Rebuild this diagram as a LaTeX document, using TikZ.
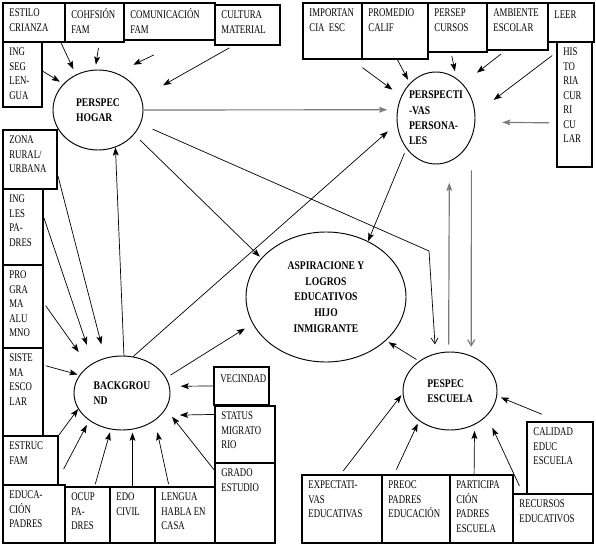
\documentclass[tikz,border=0pt]{standalone}
\usepackage{fontspec}
\setmainfont{Liberation Serif}[FakeStretch=0.75]
\newfontfamily\perspfont{Liberation Serif}[FakeStretch=0.82]
\usetikzlibrary{arrows.meta, positioning, fit, shapes.geometric}
\usepackage{xcolor}
\definecolor{LineGray}{HTML}{7A7A7A}
\newdimen\upx
\upx=0.03cm

\begin{document}
\begin{tikzpicture}[
    x=0.03cm, y=-0.03cm,
    factor/.style={draw, line width=1.5pt, inner sep=0pt},
    ftext/.style={
        anchor=north west, align=left, inner xsep=6pt, inner ysep=5.5pt,
        execute at begin node=\strut, font=\fontsize{10}{12.4}\selectfont
    },
    persp/.style={
        draw, ellipse, line width=0.8pt, inner sep=0pt, align=left,
        font=\perspfont\fontsize{10}{13}\selectfont\bfseries
    },
    arr/.style={-{Stealth[length=7pt, width=5pt, inset=1.5pt]}, line width=0.6pt},
    garr/.style={-{Stealth[length=7pt, width=5pt, inset=1.5pt]}, line width=1pt, LineGray},
    barr/.style={-{Straight Barb[length=5pt, width=6pt]}, line width=0.6pt}
]
\useasboundingbox (0,0) rectangle (596,545);

% === Home factors (top left) ===
\node[factor, fit={(3,3) (65,42)}] (estilo) {};
\node[ftext] (estilo-t) at (estilo.north west) {ESTILO\\CRIANZA};
\node[factor, fit={(65,3) (124,42)}] (cohf) {};
\node[ftext] (cohf-t) at (cohf.north west) {COHFSIÓN\\FAM};
\node[factor, fit={(124,3) (215,40)}] (comun) {};
\node[ftext] (comun-t) at (comun.north west) {COMUNICACIÓN\\FAM};
\node[factor, fit={(215,5) (280,45)}] (cultura) {};
\node[ftext] (cultura-t) at (cultura.north west) {CULTURA\\MATERIAL};
\node[factor, fit={(3,42) (42,107)}] (ingseg) {};
\node[ftext] (ingseg-t) at (ingseg.north west) {ING\\SEG\\LEN-\\GUA};

% === Personal factors (top right) ===
\node[factor, fit={(303,3) (362,59)}] (importancia) {};
\node[ftext] (importancia-t) at (importancia.north west) {IMPORTAN\\CIA\ \ ESC};
\node[factor, fit={(362,3) (428,59)}] (promedio) {};
\node[ftext] (promedio-t) at (promedio.north west) {PROMEDIO\\CALIF};
\node[factor, fit={(428,3) (487,52)}] (persep) {};
\node[ftext] (persep-t) at (persep.north west) {PERSEP\\CURSOS};
\node[factor, fit={(487,3) (548,50)}] (ambiente) {};
\node[ftext] (ambiente-t) at (ambiente.north west) {AMBIENTE\\ESCOLAR};
\node[factor, fit={(548,3) (594,42)}] (leer) {};
\node[ftext] (leer-t) at (leer.north west) {LEER};
\node[factor, fit={(557,42) (592,167)}] (historia) {};
\node[ftext] (historia-t) at (historia.north west) {HIS\\TO\\RIA\\CUR\\RI\\CU\\LAR};

% === Background factors (left and bottom) ===
\node[factor, fit={(3,130) (57,189)}] (zona) {};
\node[ftext] (zona-t) at (zona.north west) {ZONA\\RURAL/\\URBANA};
\node[factor, fit={(3,189) (43,265)}] (ingles) {};
\node[ftext] (ingles-t) at (ingles.north west) {ING\\LES\\PA-\\DRES};
\node[factor, fit={(3,265) (43,348)}] (programa) {};
\node[ftext] (programa-t) at (programa.north west) {PRO\\GRA\\MA\\ALU\\MNO};
\node[factor, fit={(3,348) (43,436)}] (sistema) {};
\node[ftext] (sistema-t) at (sistema.north west) {SISTE\\MA\\ESCO\\LAR};
\node[factor, fit={(3,436) (58,485)}] (estruc) {};
\node[ftext] (estruc-t) at (estruc.north west) {ESTRUC\\FAM};
\node[factor, fit={(3,485) (65,543)}] (educ) {};
\node[ftext] (educ-t) at (educ.north west) {EDUCA-\\CIÓN\\PADRES};
\node[factor, fit={(65,487) (110,543)}] (ocup) {};
\node[ftext] (ocup-t) at (ocup.north west) {OCUP\\PA-\\DRES};
\node[factor, fit={(110,487) (155,543)}] (edo) {};
\node[ftext] (edo-t) at (edo.north west) {EDO\\CIVIL};
\node[factor, fit={(155,487) (215,543)}] (lengua) {};
\node[ftext] (lengua-t) at (lengua.north west) {LENGUA\\HABLA EN\\CASA};
\node[factor, fit={(215,463) (275,543)}] (grado) {};
\node[ftext] (grado-t) at (grado.north west) {GRADO\\ESTUDIO};
\node[factor, fit={(215,406) (275,463)}] (status) {};
\node[ftext] (status-t) at (status.north west) {STATUS\\MIGRATO\\RIO};
\node[factor, fit={(214,367) (269,405)}] (vecindad) {};
\node[ftext] (vecindad-t) at (vecindad.north west) {VECINDAD};

% === School factors (bottom right) ===
\node[factor, fit={(302,475) (382,543)}] (expect) {};
\node[ftext] (expect-t) at (expect.north west) {EXPECTATI-\\VAS\\EDUCATIVAS};
\node[factor, fit={(382,475) (450,543)}] (preoc) {};
\node[ftext] (preoc-t) at (preoc.north west) {PREOC\\PADRES\\EDUCACIÓN};
\node[factor, fit={(450,475) (513,543)}] (partic) {};
\node[ftext] (partic-t) at (partic.north west) {PARTICIPA\\CIÓN\\PADRES\\ESCUELA};
\node[factor, fit={(513,494) (593,543)}] (recursos) {};
\node[ftext] (recursos-t) at (recursos.north west) {RECURSOS\\EDUCATIVOS};
\node[factor, fit={(527,422) (593,494)}] (calidad) {};
\node[ftext] (calidad-t) at (calidad.north west) {CALIDAD\\EDUC\\ESCUELA};

% === Perspectives ===
\node[persp, minimum width=90\upx, minimum height=80\upx] (hogar) at (98,110) {PERSPEC\\HOGAR};
\node[persp, minimum width=78\upx, minimum height=92\upx] (personales) at (436,118)
    {PERSPECTI\\-VAS\\PERSONA-\\LES};
\node[persp, align=center, minimum width=160\upx, minimum height=130\upx,
      font=\perspfont\fontsize{10}{13.5}\selectfont\bfseries] (aspira) at (326,297)
    {ASPIRACIONE Y\\LOGROS\\EDUCATIVOS\\HIJO\\INMIGRANTE};
\node[persp, minimum width=96\upx, minimum height=74\upx] (backg) at (122,393) {BACKGROU\\ND};
\node[persp, minimum width=94\upx, minimum height=78\upx] (escuela) at (450,391) {PESPEC\\ESCUELA};

% === Into PERSPEC HOGAR ===
\draw[arr, shorten >=6\upx] (estilo.-37) -- (hogar.122);
\draw[arr, shorten <=5\upx, shorten >=5\upx] (cohf.-77) -- (hogar.94);
\draw[arr, shorten <=33\upx, shorten >=19\upx] (comun.-54) -- (hogar.64);
\draw[arr, shorten <=4\upx, shorten >=25\upx] (cultura.-125) -- (hogar.16);
\draw[arr, shorten >=4\upx] (ingseg.9) -- (hogar.143);

% === Into PERSPECTIVAS PERSONALES ===
\draw[arr, shorten <=13\upx, shorten >=11\upx] (importancia.-56) -- (personales.148);
\draw[arr, shorten >=4\upx] (promedio.-85) -- (personales.127);
\draw[arr, shorten <=3\upx, shorten >=7\upx] (persep.-104) -- (personales.63);
\draw[arr, shorten <=5\upx, shorten >=18\upx] (ambiente.-117) -- (personales.52);
\draw[arr, shorten <=21\upx, shorten >=23\upx] (leer.-96) -- (personales.6);
\draw[garr, shorten <=7\upx, shorten >=27\upx] (historia.225) -- (personales.-6);
\draw[garr, shorten >=10\upx] (hogar.east) -- (personales.168);
\draw[arr, shorten >=12\upx] (backg.73) -- (personales.188);
\draw[garr, shorten <=7\upx, shorten >=21\upx] (escuela.92) -- (personales.-73);

% === Out of PERSPECTIVAS PERSONALES ===
\draw[garr, -{Straight Barb[length=5pt, width=6pt]}, shorten <=32\upx, shorten >=9\upx]
    (personales.-30) -- (escuela.59);
\draw[arr, shorten <=5\upx] (personales.-134) -- (aspira.53);

% === Out of PERSPEC HOGAR ===
\draw[arr, shorten <=8\upx, shorten >=2\upx] (hogar.-34) -- (aspira.149);
\coordinate (bend) at (429,251);
\draw[barr, shorten <=13\upx, shorten >=9\upx] (hogar.-18) -- (bend) -- (escuela.111);

% === Out of BACKGROUND and ESCUELA ===
\draw[arr] (backg.87) -- (hogar.-65);
\draw[arr, shorten <=5\upx, shorten >=9\upx] (backg.19) -- (aspira.-160);
\draw[arr, shorten <=3\upx, shorten >=3\upx] (escuela.136) -- (aspira.-36);

% === Into BACKGROUND ===
\draw[arr, shorten >=14\upx] (zona.-30) -- (backg.116);
\draw[arr, shorten >=19\upx] (ingles.24) -- (backg.134);
\draw[arr, shorten <=3\upx, shorten >=17\upx] (programa.9) -- (backg.141);
\draw[arr, shorten <=2\upx, shorten >=2\upx] (sistema.52) -- (backg.157);
\draw[arr] (estruc.north east) -- (backg.-160);
\draw[arr, shorten <=17\upx, shorten >=5\upx] (educ.54) -- (backg.-140);
\draw[arr, shorten <=2\upx, shorten >=3\upx] (ocup.76) -- (backg.-107);
\draw[arr, shorten >=3\upx] (edo.north) -- (backg.-74);
\draw[arr, shorten <=2\upx, shorten >=12\upx] (lengua.119) -- (backg.-40);
\draw[arr, shorten >=10\upx] (grado.133) -- (backg.-20);
\draw[arr, shorten >=19\upx] (status.147) -- (backg.-30);
\draw[arr, shorten >=11\upx] (vecindad.west) -- (backg.8);

% === Into PESPEC ESCUELA ===
\draw[arr, shorten <=4\upx, shorten >=2\upx] (expect.92) -- (escuela.183);
\draw[arr, shorten <=5\upx, shorten >=3\upx] (preoc.122) -- (escuela.-136);
\draw[arr, shorten >=6\upx] (partic.102) -- (escuela.-54);
\draw[arr, shorten <=8\upx, shorten >=13\upx] (recursos.140) -- (escuela.-34);
\draw[arr, shorten <=18\upx, shorten >=4\upx] (calidad.92) -- (escuela.-6);

\end{tikzpicture}
\end{document}
